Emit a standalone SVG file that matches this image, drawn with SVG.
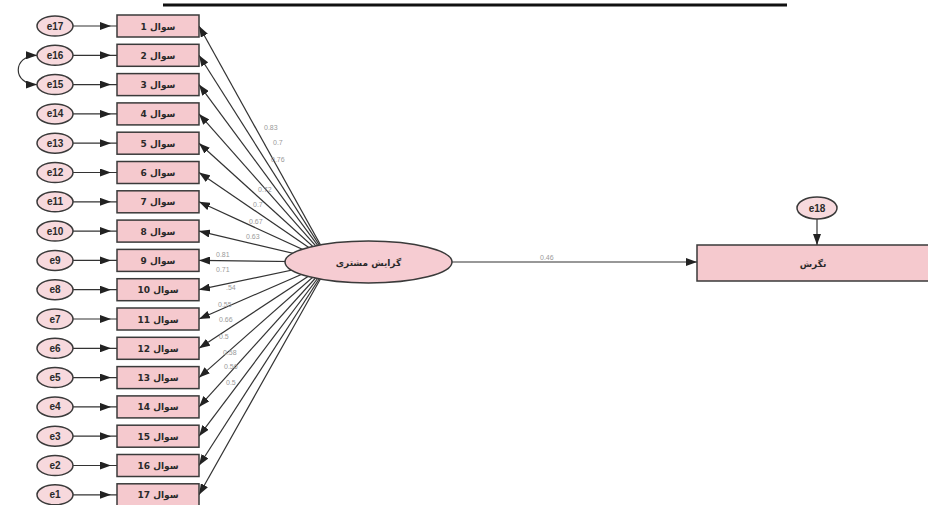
<svg xmlns="http://www.w3.org/2000/svg" width="928" height="505" viewBox="0 0 928 505">
<style>
.box{fill:#f5c9ce;stroke:#3a3a3a;stroke-width:1.5}
.err{fill:#f7d9dd;stroke:#3a3a3a;stroke-width:1.5}
.lat{fill:#f6ccd2;stroke:#3a3a3a;stroke-width:1.5}
.et{font-family:"Liberation Sans",Arial,sans-serif;font-size:10px;font-weight:bold;fill:#2a2a2a;text-anchor:middle}
.qt{font-family:"DejaVu Sans",sans-serif;font-size:9px;font-weight:bold;fill:#2a2a2a;text-anchor:middle}
.ln{stroke:#333;stroke-width:1.2;fill:none}
.lb{font-family:"Liberation Sans",Arial,sans-serif;font-size:7px;fill:#9a9a9a}
</style>
<defs>
<marker id="ah" markerUnits="userSpaceOnUse" markerWidth="11" markerHeight="8" refX="11" refY="4" orient="auto"><path d="M0,0 L11,4 L0,8 z" fill="#222"/></marker>
<marker id="am" markerUnits="userSpaceOnUse" markerWidth="11" markerHeight="8" refX="6" refY="4" orient="auto"><path d="M0,0 L11,4 L0,8 z" fill="#222"/></marker>
<marker id="as" markerUnits="userSpaceOnUse" markerWidth="11" markerHeight="8" refX="11" refY="4" orient="auto-start-reverse"><path d="M0,0 L11,4 L0,8 z" fill="#222"/></marker>
</defs>
<rect width="928" height="505" fill="#fff"/>
<line x1="163" y1="5" x2="787" y2="5" stroke="#111" stroke-width="3"/>
<g id="connectors">
<path class="ln" d="M330,262 L199,26" marker-end="url(#ah)"/>
<path class="ln" d="M330,262 L199,55.3" marker-end="url(#ah)"/>
<path class="ln" d="M330,262 L199,84.6" marker-end="url(#ah)"/>
<path class="ln" d="M330,262 L199,113.9" marker-end="url(#ah)"/>
<path class="ln" d="M330,262 L199,143.2" marker-end="url(#ah)"/>
<path class="ln" d="M330,262 L199,172.5" marker-end="url(#ah)"/>
<path class="ln" d="M330,262 L199,201.8" marker-end="url(#ah)"/>
<path class="ln" d="M330,262 L199,231.1" marker-end="url(#ah)"/>
<path class="ln" d="M330,262 L199,260.4" marker-end="url(#ah)"/>
<path class="ln" d="M330,262 L199,289.7" marker-end="url(#ah)"/>
<path class="ln" d="M330,262 L199,319" marker-end="url(#ah)"/>
<path class="ln" d="M330,262 L199,348.3" marker-end="url(#ah)"/>
<path class="ln" d="M330,262 L199,377.6" marker-end="url(#ah)"/>
<path class="ln" d="M330,262 L199,406.9" marker-end="url(#ah)"/>
<path class="ln" d="M330,262 L199,436.2" marker-end="url(#ah)"/>
<path class="ln" d="M330,262 L199,465.5" marker-end="url(#ah)"/>
<path class="ln" d="M330,262 L199,494.8" marker-end="url(#ah)"/>
<path class="ln" d="M73,26 L106,26 L117,26" marker-mid="url(#am)"/>
<path class="ln" d="M73,55.3 L106,55.3 L117,55.3" marker-mid="url(#am)"/>
<path class="ln" d="M73,84.6 L106,84.6 L117,84.6" marker-mid="url(#am)"/>
<path class="ln" d="M73,113.9 L106,113.9 L117,113.9" marker-mid="url(#am)"/>
<path class="ln" d="M73,143.2 L106,143.2 L117,143.2" marker-mid="url(#am)"/>
<path class="ln" d="M73,172.5 L106,172.5 L117,172.5" marker-mid="url(#am)"/>
<path class="ln" d="M73,201.8 L106,201.8 L117,201.8" marker-mid="url(#am)"/>
<path class="ln" d="M73,231.1 L106,231.1 L117,231.1" marker-mid="url(#am)"/>
<path class="ln" d="M73,260.4 L106,260.4 L117,260.4" marker-mid="url(#am)"/>
<path class="ln" d="M73,289.7 L106,289.7 L117,289.7" marker-mid="url(#am)"/>
<path class="ln" d="M73,319 L106,319 L117,319" marker-mid="url(#am)"/>
<path class="ln" d="M73,348.3 L106,348.3 L117,348.3" marker-mid="url(#am)"/>
<path class="ln" d="M73,377.6 L106,377.6 L117,377.6" marker-mid="url(#am)"/>
<path class="ln" d="M73,406.9 L106,406.9 L117,406.9" marker-mid="url(#am)"/>
<path class="ln" d="M73,436.2 L106,436.2 L117,436.2" marker-mid="url(#am)"/>
<path class="ln" d="M73,465.5 L106,465.5 L117,465.5" marker-mid="url(#am)"/>
<path class="ln" d="M73,494.8 L106,494.8 L117,494.8" marker-mid="url(#am)"/>
<path class="ln" d="M37,55.3 C12,55.3 12,84.6 37,84.6" marker-start="url(#as)" marker-end="url(#as)"/>
<path class="ln" d="M452,262 L697,262" marker-end="url(#ah)"/>
<path class="ln" d="M817,219 L817,245" marker-end="url(#ah)"/>
<text class="lb" x="264" y="130">0.83</text>
<text class="lb" x="273" y="145">0.7</text>
<text class="lb" x="271" y="162">0.76</text>
<text class="lb" x="258" y="192">0.72</text>
<text class="lb" x="253" y="207">0.7</text>
<text class="lb" x="249" y="224">0.67</text>
<text class="lb" x="246" y="239">0.63</text>
<text class="lb" x="216" y="257">0.81</text>
<text class="lb" x="216" y="272">0.71</text>
<text class="lb" x="226" y="290">.54</text>
<text class="lb" x="218" y="307">0.55</text>
<text class="lb" x="219" y="322">0.66</text>
<text class="lb" x="219" y="339">0.5</text>
<text class="lb" x="223" y="355">0.58</text>
<text class="lb" x="224" y="369">0.56</text>
<text class="lb" x="226" y="385">0.5</text>
<text class="lb" x="540" y="260">0.46</text>
</g>
<g id="q1"><ellipse class="err" cx="55" cy="26" rx="18" ry="10"/><text class="et" x="55" y="29.5">e17</text><rect class="box" x="117" y="15" width="82" height="22"/><text class="qt" x="158" y="29.5" direction="rtl">سوال 1</text></g>
<g id="q2"><ellipse class="err" cx="55" cy="55.3" rx="18" ry="10"/><text class="et" x="55" y="58.8">e16</text><rect class="box" x="117" y="44.3" width="82" height="22"/><text class="qt" x="158" y="58.8" direction="rtl">سوال 2</text></g>
<g id="q3"><ellipse class="err" cx="55" cy="84.6" rx="18" ry="10"/><text class="et" x="55" y="88.1">e15</text><rect class="box" x="117" y="73.6" width="82" height="22"/><text class="qt" x="158" y="88.1" direction="rtl">سوال 3</text></g>
<g id="q4"><ellipse class="err" cx="55" cy="113.9" rx="18" ry="10"/><text class="et" x="55" y="117.4">e14</text><rect class="box" x="117" y="102.9" width="82" height="22"/><text class="qt" x="158" y="117.4" direction="rtl">سوال 4</text></g>
<g id="q5"><ellipse class="err" cx="55" cy="143.2" rx="18" ry="10"/><text class="et" x="55" y="146.7">e13</text><rect class="box" x="117" y="132.2" width="82" height="22"/><text class="qt" x="158" y="146.7" direction="rtl">سوال 5</text></g>
<g id="q6"><ellipse class="err" cx="55" cy="172.5" rx="18" ry="10"/><text class="et" x="55" y="176">e12</text><rect class="box" x="117" y="161.5" width="82" height="22"/><text class="qt" x="158" y="176" direction="rtl">سوال 6</text></g>
<g id="q7"><ellipse class="err" cx="55" cy="201.8" rx="18" ry="10"/><text class="et" x="55" y="205.3">e11</text><rect class="box" x="117" y="190.8" width="82" height="22"/><text class="qt" x="158" y="205.3" direction="rtl">سوال 7</text></g>
<g id="q8"><ellipse class="err" cx="55" cy="231.1" rx="18" ry="10"/><text class="et" x="55" y="234.6">e10</text><rect class="box" x="117" y="220.1" width="82" height="22"/><text class="qt" x="158" y="234.6" direction="rtl">سوال 8</text></g>
<g id="q9"><ellipse class="err" cx="55" cy="260.4" rx="18" ry="10"/><text class="et" x="55" y="263.9">e9</text><rect class="box" x="117" y="249.4" width="82" height="22"/><text class="qt" x="158" y="263.9" direction="rtl">سوال 9</text></g>
<g id="q10"><ellipse class="err" cx="55" cy="289.7" rx="18" ry="10"/><text class="et" x="55" y="293.2">e8</text><rect class="box" x="117" y="278.7" width="82" height="22"/><text class="qt" x="158" y="293.2" direction="rtl">سوال 10</text></g>
<g id="q11"><ellipse class="err" cx="55" cy="319" rx="18" ry="10"/><text class="et" x="55" y="322.5">e7</text><rect class="box" x="117" y="308" width="82" height="22"/><text class="qt" x="158" y="322.5" direction="rtl">سوال 11</text></g>
<g id="q12"><ellipse class="err" cx="55" cy="348.3" rx="18" ry="10"/><text class="et" x="55" y="351.8">e6</text><rect class="box" x="117" y="337.3" width="82" height="22"/><text class="qt" x="158" y="351.8" direction="rtl">سوال 12</text></g>
<g id="q13"><ellipse class="err" cx="55" cy="377.6" rx="18" ry="10"/><text class="et" x="55" y="381.1">e5</text><rect class="box" x="117" y="366.6" width="82" height="22"/><text class="qt" x="158" y="381.1" direction="rtl">سوال 13</text></g>
<g id="q14"><ellipse class="err" cx="55" cy="406.9" rx="18" ry="10"/><text class="et" x="55" y="410.4">e4</text><rect class="box" x="117" y="395.9" width="82" height="22"/><text class="qt" x="158" y="410.4" direction="rtl">سوال 14</text></g>
<g id="q15"><ellipse class="err" cx="55" cy="436.2" rx="18" ry="10"/><text class="et" x="55" y="439.7">e3</text><rect class="box" x="117" y="425.2" width="82" height="22"/><text class="qt" x="158" y="439.7" direction="rtl">سوال 15</text></g>
<g id="q16"><ellipse class="err" cx="55" cy="465.5" rx="18" ry="10"/><text class="et" x="55" y="469">e2</text><rect class="box" x="117" y="454.5" width="82" height="22"/><text class="qt" x="158" y="469" direction="rtl">سوال 16</text></g>
<g id="q17"><ellipse class="err" cx="55" cy="494.8" rx="18" ry="10"/><text class="et" x="55" y="498.3">e1</text><rect class="box" x="117" y="483.8" width="82" height="22"/><text class="qt" x="158" y="498.3" direction="rtl">سوال 17</text></g>
<g id="latent"><ellipse class="lat" cx="368.5" cy="262" rx="83.5" ry="21"/><text class="qt" x="368.5" y="265.5" direction="rtl">گرایش مشتری</text></g>
<g id="outcome"><rect class="box" x="697" y="245" width="234" height="36"/><text class="qt" x="813" y="266.5" direction="rtl">نگرش</text></g>
<g id="e18"><ellipse class="err" cx="817" cy="208" rx="20" ry="11"/><text class="et" x="817" y="211.5">e18</text></g>
</svg>
